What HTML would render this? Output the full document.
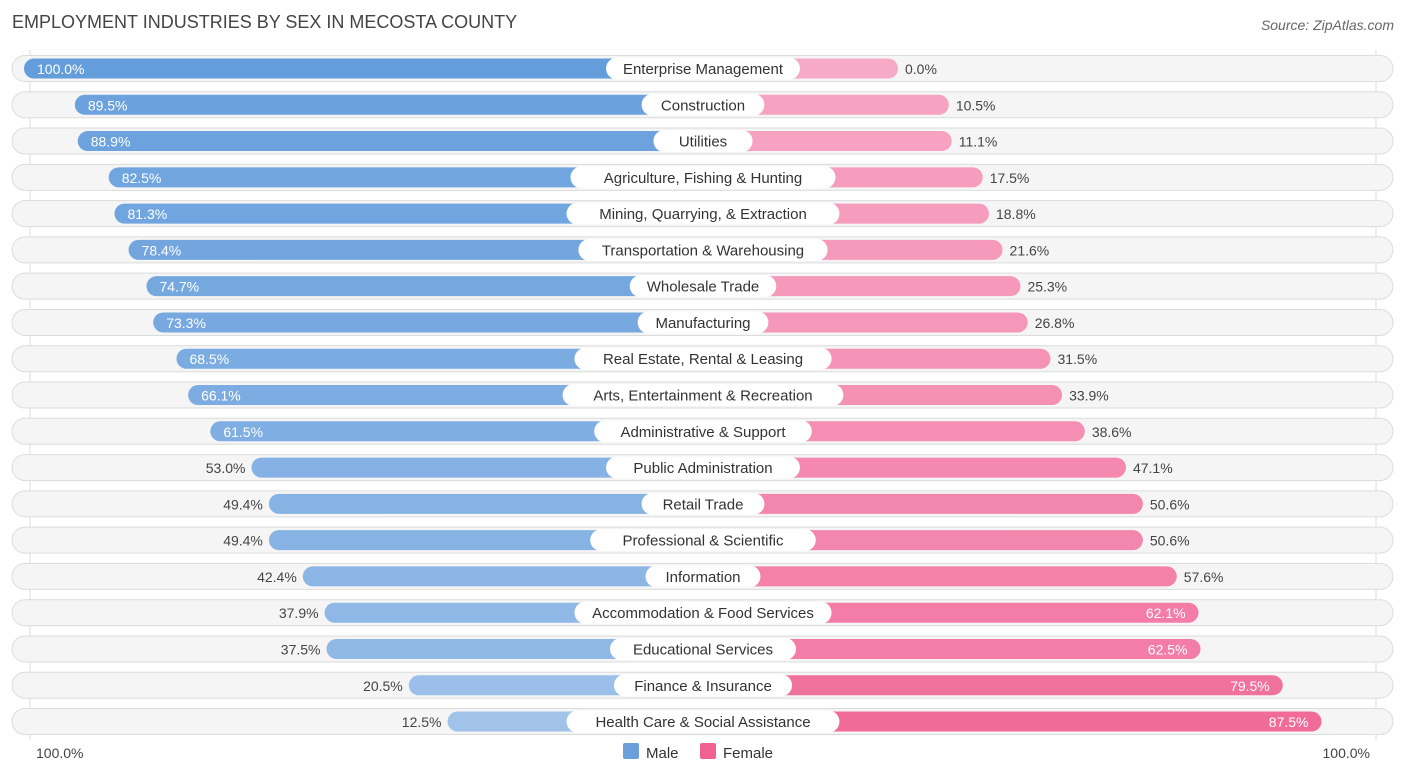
<!DOCTYPE html>
<html><head><meta charset="utf-8"><style>
body{margin:0;background:#fff;font-family:"Liberation Sans",sans-serif;}
svg text{font-family:"Liberation Sans",sans-serif;}
</style></head><body>
<svg id="chart" width="1406" height="776" xmlns="http://www.w3.org/2000/svg">
<text x="12" y="28" font-size="18" fill="#444">EMPLOYMENT INDUSTRIES BY SEX IN MECOSTA COUNTY</text>
<text x="1394" y="30" font-size="14" fill="#666" text-anchor="end" font-style="italic">Source: ZipAtlas.com</text>
<line x1="30" y1="50" x2="30" y2="740" stroke="#ddd"/>
<line x1="1376" y1="50" x2="1376" y2="740" stroke="#ddd"/>
<g id="rows"></g>
<text x="36" y="758" font-size="14" fill="#444">100.0%</text>
<text x="1370" y="758" font-size="14" fill="#444" text-anchor="end">100.0%</text>
<g>
<rect x="623" y="743" width="16" height="16" rx="2" fill="#6a9fdc"/>
<text x="646" y="758" font-size="15" fill="#333">Male</text>
<rect x="700" y="743" width="16" height="16" rx="2" fill="#f06292"/>
<text x="723" y="758" font-size="15" fill="#333">Female</text>
</g>
</svg>
<script>
const categories=["Enterprise Management","Construction","Utilities","Agriculture, Fishing & Hunting","Mining, Quarrying, & Extraction","Transportation & Warehousing","Wholesale Trade","Manufacturing","Real Estate, Rental & Leasing","Arts, Entertainment & Recreation","Administrative & Support","Public Administration","Retail Trade","Professional & Scientific","Information","Accommodation & Food Services","Educational Services","Finance & Insurance","Health Care & Social Assistance"];
const maleValues=[100.0,89.5,88.9,82.5,81.3,78.4,74.7,73.3,68.5,66.1,61.5,53.0,49.4,49.4,42.4,37.9,37.5,20.5,12.5];
const femaleValues=[0.0,10.5,11.1,17.5,18.8,21.6,25.3,26.8,31.5,33.9,38.6,47.1,50.6,50.6,57.6,62.1,62.5,79.5,87.5];
const NS="http://www.w3.org/2000/svg";
const g=document.getElementById('rows');
const cx=703, off=195, sc=4.84, y0=68.5, pitch=36.28, bh=20;
function maleX(v){return cx-off-v*sc;}
function femaleX(v){return cx+off+v*sc;}
function mix(a,b,t){return 'rgb('+a.map((c,i)=>Math.round(c+(b[i]-c)*t)).join(',')+')';}
function mk(tag,attrs){const e=document.createElementNS(NS,tag);for(const k in attrs)e.setAttribute(k,attrs[k]);return e;}
categories.forEach((cat,i)=>{
  const y=y0+i*pitch;
  const row=mk('g',{});
  
  
  const bg=mk('rect',{x:12,y:y-13,width:1381,height:26,rx:13,fill:'#f5f5f5',stroke:'#dcdcdc','stroke-width':1});
  
  
  row.appendChild(bg);
  const m=maleValues[i], f=femaleValues[i];
  const mx=maleX(m);
  const mb=mk('rect',{x:mx,y:y-bh/2,width:cx-mx,height:bh,rx:10,fill:mix([170,200,236],[100,157,220],m/100)});
  
  
  row.appendChild(mb);
  const fx=femaleX(f);
  const fb=mk('rect',{x:cx,y:y-bh/2,width:fx-cx,height:bh,rx:10,fill:mix([247,170,198],[240,98,146],f/100)});
  
  
  row.appendChild(fb);
  const lw=cat.length*7.9+28;
  const lb=mk('rect',{x:cx-lw/2,y:y-11,width:lw,height:22,rx:11,fill:'#fff'});
  
  
  row.appendChild(lb);
  const lt=mk('text',{x:cx,y:y+5.5,'font-size':15,fill:'#333','text-anchor':'middle'});
  lt.textContent=cat;
  
  
  row.appendChild(lt);
  const mIn=m>=55;
  const mt=mk('text',{x:mIn?mx+13:mx-6,y:y+5.5,'font-size':14,fill:mIn?'#fff':'#444','text-anchor':mIn?'start':'end'});
  mt.textContent=m.toFixed(1)+'%';
  
  
  row.appendChild(mt);
  const fIn=f>=60;
  const ft=mk('text',{x:fIn?fx-13:fx+7,y:y+5.5,'font-size':14,fill:fIn?'#fff':'#444','text-anchor':fIn?'end':'start'});
  ft.textContent=f.toFixed(1)+'%';
  
  
  row.appendChild(ft);
  g.appendChild(row);
});
</script>
</body></html>
